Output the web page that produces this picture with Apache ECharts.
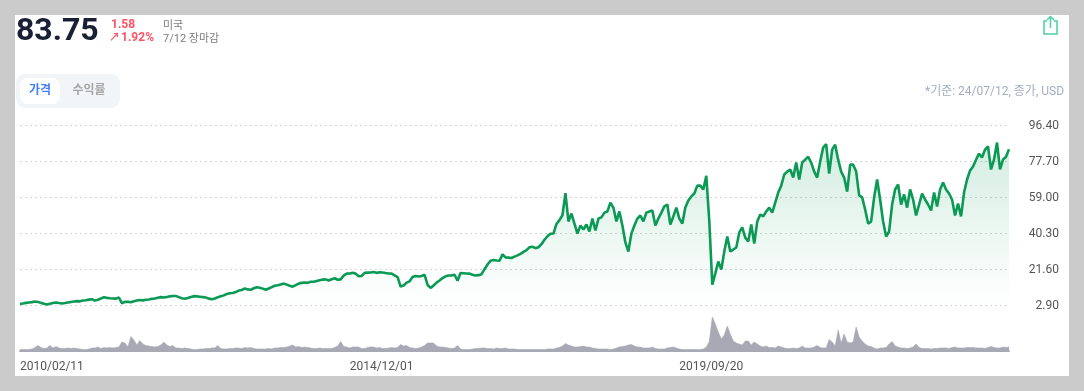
<!DOCTYPE html>
<html>
<head>
<meta charset="utf-8">
<title>83.75</title>
<script src="https://cdn.jsdelivr.net/npm/echarts@6/dist/echarts.min.js"></script>
<style>
html, body { margin: 0; padding: 0; background: #cbcbcb; }
#panel { position: absolute; left: 15px; top: 15px; width: 1054px; height: 361px; background: #fff; }
#chart { position: absolute; left: 0; top: 0; width: 1084px; height: 391px; }
</style>
</head>
<body>
<div id="panel"></div>
<div id="chart"></div>
<script>
const tickLabels = ['2010/02/11', '2014/12/01', '2019/09/20'];
const priceTicks = [2.9, 21.6, 40.3, 59.0, 77.7, 96.4];

const priceValues = [
  3.5, 3.7, 4.0, 4.2, 4.4, 4.7, 4.5, 4.0, 3.6, 3.2,
  3.6, 3.9, 4.2, 3.9, 3.7, 3.9, 4.2, 4.5, 4.7, 4.9,
  4.8, 5.2, 5.4, 5.7, 5.9, 5.2, 5.6, 6.3, 6.9, 6.6,
  6.4, 6.3, 6.2, 6.8, 3.8, 4.5, 4.6, 4.3, 4.8, 5.2,
  5.5, 5.3, 5.6, 5.8, 6.1, 6.3, 6.7, 7.0, 6.8, 7.1,
  7.4, 7.6, 7.6, 7.0, 6.4, 6.1, 6.5, 7.1, 7.5, 7.4,
  7.2, 7.0, 6.8, 6.2, 5.9, 6.3, 6.9, 7.4, 7.9, 8.6,
  9.0, 9.1, 9.6, 10.4, 10.7, 11.5, 11.0, 10.8, 11.6, 12.1,
  11.9, 11.4, 10.8, 11.5, 12.2, 12.9, 13.2, 13.6, 14.0, 13.5,
  12.9, 12.4, 13.2, 14.0, 14.4, 14.6, 14.4, 15.0, 15.0, 15.4,
  15.8, 16.1, 16.2, 15.6, 16.3, 16.8, 16.0, 16.2, 18.2, 19.2,
  19.3, 19.6, 19.2, 17.8, 18.0, 19.6, 19.7, 19.8, 20.0, 19.6,
  19.9, 19.8, 19.5, 19.3, 19.2, 18.3, 17.4, 12.5, 13.0, 14.5,
  15.2, 17.4, 18.0, 17.7, 18.0, 18.6, 13.3, 11.8, 13.0, 14.5,
  15.6, 16.9, 17.8, 18.2, 18.3, 18.6, 15.5, 19.5, 19.4, 19.3,
  19.2, 18.6, 18.2, 18.4, 18.9, 21.5, 23.9, 25.9, 26.3, 26.0,
  25.9, 29.2, 27.6, 27.5, 27.3, 28.0, 28.7, 29.5, 30.5, 31.4,
  32.9, 33.2, 32.4, 32.9, 34.5, 36.8, 38.6, 39.9, 40.0, 45.0,
  47.0, 49.5, 61.0, 46.3, 50.4, 45.2, 40.0, 44.2, 42.1, 44.7,
  41.1, 47.8, 41.6, 47.8, 48.4, 50.9, 51.5, 56.1, 53.5, 46.3,
  51.5, 44.2, 35.4, 30.7, 40.0, 44.2, 47.8, 49.4, 46.3, 50.9,
  51.5, 52.0, 44.2, 47.8, 50.9, 54.1, 55.1, 44.7, 48.9, 53.5,
  47.8, 45.2, 53.5, 57.2, 59.3, 60.8, 64.9, 64.9, 62.9, 70.0,
  46.3, 13.5, 19.3, 25.5, 21.3, 30.7, 38.5, 30.7, 31.7, 32.8,
  40.6, 43.2, 37.9, 35.9, 44.7, 34.8, 46.3, 49.9, 48.9, 51.5,
  53.5, 50.9, 56.1, 61.3, 64.9, 70.7, 72.2, 73.3, 69.1, 76.9,
  68.1, 76.9, 78.4, 79.9, 76.9, 72.2, 69.1, 77.4, 84.7, 86.5,
  71.2, 83.6, 86.2, 78.4, 72.2, 69.1, 61.8, 75.8, 75.8, 72.2,
  59.8, 58.8, 52.5, 45.2, 46.3, 58.8, 68.1, 57.7, 46.3, 38.5,
  41.1, 55.1, 62.9, 65.5, 55.1, 60.3, 53.5, 62.9, 57.7, 49.4,
  55.1, 60.8, 57.7, 55.1, 52.0, 61.3, 54.1, 62.9, 66.5, 62.9,
  60.8, 57.7, 49.4, 55.6, 48.9, 61.3, 68.1, 72.7, 74.8, 78.4,
  81.5, 79.5, 83.6, 85.3, 73.3, 78.4, 87.3, 73.3, 78.4, 79.9,
  83.75
];

const volumeValues = [
  1.5, 1.5, 1.5, 1.5, 2, 3.5, 5.5, 3.5, 2.5, 3,
  5.5, 3, 4.5, 3, 2.5, 2.5, 3, 2.5, 3, 2.5,
  2, 1.5, 1.5, 2, 3, 3, 4, 2.5, 3.5, 3,
  3.5, 3, 3.5, 4, 9, 8, 4, 14.5, 11, 6,
  10.5, 7, 5.5, 5, 4.5, 4, 4.5, 6, 9, 6,
  4.5, 5.5, 3, 3, 2.5, 3, 2.5, 2, 1.5, 1.5,
  2, 2, 2.5, 2.5, 3, 3, 5.5, 2.5, 2, 2,
  2.5, 2.5, 3, 3, 2.5, 3.5, 3, 3.5, 2.5, 2,
  2, 2, 2, 2.5, 2, 3, 3, 3.5, 3.5, 4,
  5, 6, 4, 4.5, 3.5, 4, 3.5, 3, 2.5, 2.5,
  3, 2.5, 2.5, 2.5, 2.5, 3.5, 5, 9.5, 4.5, 4,
  3, 4, 4, 4, 2.5, 2.5, 3.5, 4, 4, 3,
  3.5, 2.5, 2.5, 3, 3.5, 3, 3.5, 6.5, 5, 5.5,
  3.5, 3, 2.5, 3, 4, 5.5, 8, 8, 8, 5,
  4, 4, 3.5, 3, 2.5, 3, 5.5, 2, 1.5, 1.5,
  1.5, 2, 2.5, 2.5, 3, 3, 2.5, 2.5, 2, 3,
  2.5, 2.5, 3, 2, 2, 2, 1.5, 1.5, 1.5, 1.5,
  1.5, 1.5, 1.5, 1.5, 1.5, 1.5, 2, 2, 2, 3,
  3.5, 5, 7.5, 6, 5, 4, 4, 4.5, 5, 4,
  4, 3, 2.5, 2, 2, 2, 2, 1.5, 2, 3,
  4, 4.5, 5, 6, 6.5, 5, 4, 4, 3, 3,
  3, 4, 2.5, 2, 2, 2, 3, 3.5, 4, 3,
  2, 1.5, 1.5, 1.5, 1.5, 1.5, 1.5, 1.5, 2, 4,
  9.5, 34, 27, 19, 12, 16, 25, 17, 10, 8,
  7, 6, 10, 10, 6, 9, 7, 5, 4, 5,
  3.5, 3.5, 3, 5, 4, 3, 2.5, 2.5, 3, 2.5,
  3, 5, 3, 3, 3, 4, 5.5, 3.5, 3, 3,
  11.5, 9, 5, 21, 8, 17, 9, 8, 9, 24,
  14, 10, 7, 5, 4.5, 3, 2, 3, 3, 3.5,
  7, 9.5, 5, 4, 3, 3, 2.5, 3, 4, 7,
  3.5, 2.5, 2.5, 2.5, 2, 2.5, 2.5, 3, 3, 3,
  2.5, 3.5, 4, 3, 3, 3, 3.5, 3.5, 3.5, 3,
  3, 3, 2.5, 3.5, 4.5, 3.5, 3, 3, 4, 3.5,
  4
];

// x축 라벨은 110개 간격으로 표시
const labelStep = 110;
const categories = priceValues.map((v, i) => (i % labelStep === 0 ? (tickLabels[i / labelStep] || '') : ''));

const fontFamily = 'Roboto, "Noto Sans CJK KR", sans-serif';
const lineColor = '#0a9a55';
const volumeColor = '#a9a9b6';
const shareColor = '#49d0a8';

function label(x, y, text, fill, size, weight, align) {
  return {
    type: 'text', x: x, y: y, silent: true,
    style: {
      text: text, fill: fill, font: (weight || 400) + ' ' + size + 'px ' + fontFamily,
      textAlign: align || 'left', textVerticalAlign: 'middle'
    }
  };
}

function shareLine(points) {
  return {
    type: 'polyline', silent: true,
    shape: { points: points },
    style: { stroke: shareColor, lineWidth: 1.5, fill: null }
  };
}

const chart = echarts.init(document.getElementById('chart'));
chart.setOption({
  backgroundColor: 'transparent',
  animation: false,
  textStyle: { fontFamily: fontFamily },
  grid: [
    { left: 20, right: 75, top: 125, height: 180 },
    { left: 20, right: 75, top: 315, height: 36 }
  ],
  xAxis: [
    { type: 'category', gridIndex: 0, data: categories, boundaryGap: false, show: false },
    {
      type: 'category', gridIndex: 1, data: categories, boundaryGap: false,
      axisLine: { lineStyle: { color: volumeColor, width: 2 } },
      axisTick: { show: false },
      axisLabel: {
        color: '#555', fontSize: 12, align: 'left', margin: 10,
        interval: (i) => i % labelStep === 0 && i / labelStep < tickLabels.length
      }
    }
  ],
  yAxis: [
    {
      type: 'value', gridIndex: 0, position: 'right', min: 2.9, max: 96.4,
      axisLine: { show: false },
      axisTick: { show: false, customValues: priceTicks },
      axisLabel: {
        customValues: priceTicks, color: '#555', fontSize: 12, margin: 50, align: 'right',
        verticalAlign: 'top', lineHeight: 2,
        formatter: (v) => v.toFixed(2)
      },
      splitLine: { show: true, lineStyle: { color: '#d6d6d6', type: [2, 3], width: 1 } }
    },
    { type: 'value', gridIndex: 1, min: 0, max: 36, show: false }
  ],
  series: [
    {
      type: 'line', xAxisIndex: 0, yAxisIndex: 0, data: priceValues,
      showSymbol: false, smooth: false, z: 3,
      lineStyle: { color: lineColor, width: 2.6, join: 'bevel' },
      areaStyle: {
        origin: 'start',
        color: new echarts.graphic.LinearGradient(0, 0, 0, 1, [
          { offset: 0, color: 'rgba(10,154,85,0.25)' },
          { offset: 1, color: 'rgba(10,154,85,0)' }
        ])
      }
    },
    {
      type: 'line', xAxisIndex: 1, yAxisIndex: 1, data: volumeValues,
      showSymbol: false, smooth: false,
      lineStyle: { color: volumeColor, width: 0.6 },
      areaStyle: { origin: 'start', color: volumeColor, opacity: 1 }
    }
  ],
  graphic: [
    label(16, 32, '83.75', '#1a1f36', 32, 700),
    label(111, 25, '1.58', '#ff5263', 12, 700),
    label(109, 38, '↗', '#ff5263', 11, 700),
    label(121, 38, '1.92%', '#ff5263', 12, 700),
    label(163, 26, '미국', '#7c7c7c', 11),
    label(163, 39, '7/12 장마감', '#7c7c7c', 11),
    { type: 'rect', silent: true, shape: { x: 16, y: 74, width: 104, height: 34, r: 9 }, style: { fill: '#f2f5f8' } },
    { type: 'rect', silent: true, shape: { x: 20, y: 78, width: 40, height: 26, r: 8 }, style: { fill: '#fff' } },
    label(40, 91, '가격', '#3f7dff', 12, 700, 'center'),
    label(89, 91, '수익률', '#a5a5a5', 12, 700, 'center'),
    label(1064, 92, '*기준: 24/07/12, 종가, USD', '#a3adc2', 12, 400, 'right'),
    shareLine([[1047, 21], [1044, 21], [1044, 34], [1057, 34], [1057, 21], [1054, 21]]),
    shareLine([[1050.5, 28], [1050.5, 16.5]]),
    shareLine([[1047, 20], [1050.5, 16.5], [1054, 20]])
  ]
});
</script>
</body>
</html>
